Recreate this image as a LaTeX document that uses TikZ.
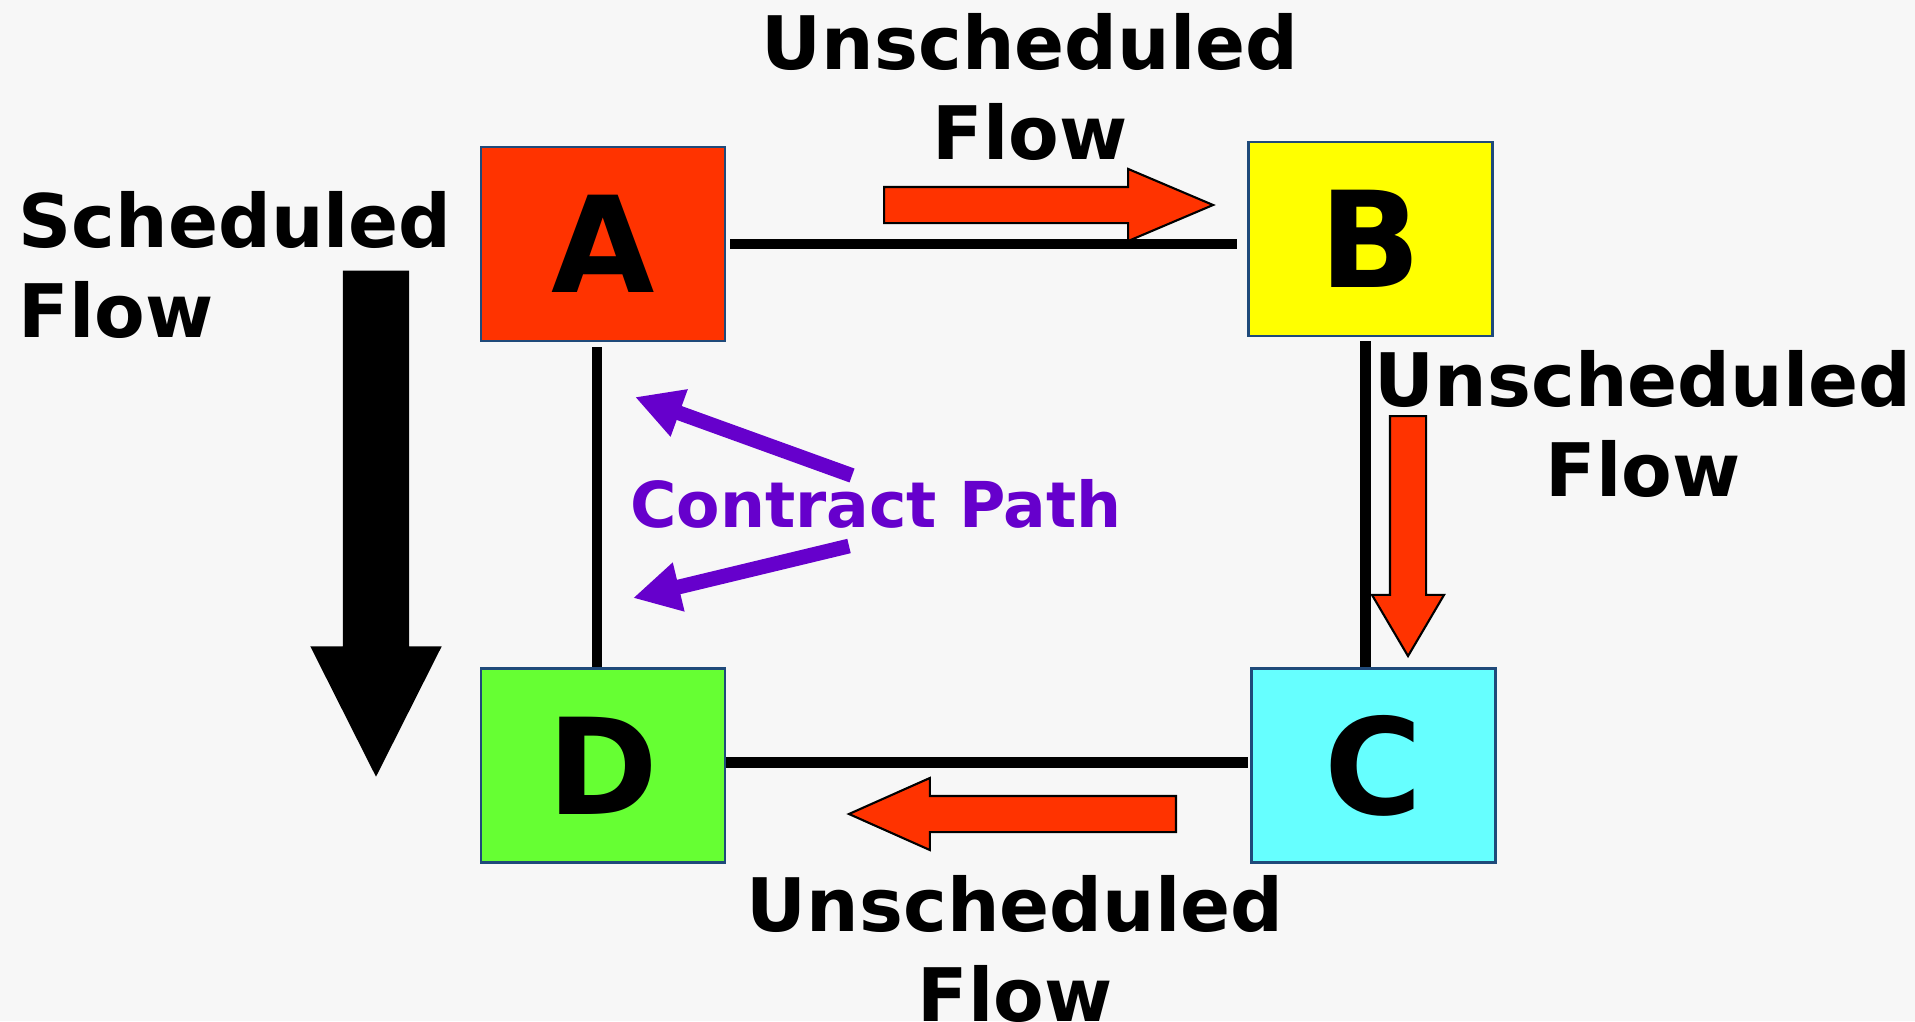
\documentclass[tikz,border=0pt]{standalone}
\usepackage{fontspec}
\setmainfont{DejaVu Sans}
\usepackage{xcolor}
\usetikzlibrary{arrows.meta,positioning,shapes.arrows}

\definecolor{bgcol}{HTML}{F7F7F7}
\definecolor{redbox}{HTML}{FF3300}
\definecolor{yellowbox}{HTML}{FFFF00}
\definecolor{cyanbox}{HTML}{66FFFF}
\definecolor{greenbox}{HTML}{66FF33}
\definecolor{boxline}{HTML}{1F4A7A}
\definecolor{contract}{HTML}{6600CC}

\begin{document}
\begin{tikzpicture}[
		font=\bfseries,
		nodeblock/.style={draw=boxline, line width=0.8pt, minimum width=2.44cm, minimum height=1.94cm, inner sep=0pt, font=\fontsize{38}{38}\selectfont\bfseries},
		link/.style={line width=3.1pt, black},
		flowlabel/.style={font=\fontsize{21}{25.6}\selectfont\bfseries, align=center, inner sep=0pt},
		flowarrow/.style={single arrow, draw=black, line width=0.6pt, fill=redbox, inner xsep=0pt, inner ysep=0.17cm, single arrow head extend=0.18cm, minimum width=0.71cm, anchor=tail},
		schedarrow/.style={single arrow, fill=black, inner xsep=0pt, inner ysep=0.325cm, single arrow head extend=0.325cm, minimum width=1.30cm, minimum height=5.06cm, single arrow tip angle=53.5, rotate=-90, anchor=tail},
		contractarrow/.style={line width=4.2pt, contract, -{Triangle[length=0.47cm,width=0.47cm]}},
		node distance=3.27cm and 5.21cm
		]
		
		% Canvas
		\fill[bgcol] (0,0) rectangle (19.15,10.21);
		\useasboundingbox (0,0) rectangle (19.15,10.21);
		
		% Areas
		\node[nodeblock, fill=redbox] (A) at (6.03,7.77) {A};
		\node[nodeblock, fill=yellowbox, right=of A, yshift=0.05cm] (B) {B};
		\node[nodeblock, fill=greenbox, below=3.25cm of A] (D) {D};
		\node[nodeblock, fill=cyanbox, right=5.24cm of D] (C) {C};
		
		% Tie lines
		\draw[link, shorten <=0.04cm, shorten >=0.1cm] (A.east) -- (A.east -| B.west);
		\draw[link, shorten <=0.05cm] ([xshift=-0.06cm]A.south) -- ([xshift=-0.06cm]A.south |- D.north);
		\draw[link, shorten <=0.04cm] ([xshift=-0.05cm]B.south) -- ([xshift=-0.05cm]B.south |- C.north);
		\draw[link, shorten >=0.02cm] ([yshift=0.03cm]D.east) -- ([yshift=0.03cm]D.east -| C.west);
		
		% Flow labels
		\node[flowlabel, anchor=north] (uflowAB) at (10.30,10.08) {Unscheduled\\Flow};
		\node[flowlabel, align=left, anchor=north west] (sflow) at (0.18,8.30) {Scheduled\\Flow};
		\node[flowlabel, anchor=north] (uflowBC) at (16.43,6.71) {Unscheduled\\Flow};
		\node[flowlabel, anchor=north] (uflowCD) at (10.15,1.46) {Unscheduled\\Flow};
		
		% Flow arrows
		\node[flowarrow, minimum height=3.29cm, single arrow tip angle=46] (arrAB) at (8.83,8.16) {};
		\node[flowarrow, minimum height=2.40cm, single arrow tip angle=61, rotate=-90] (arrBC) at (14.08,6.06) {};
		\node[flowarrow, minimum height=3.27cm, single arrow tip angle=48, rotate=180] (arrCD) at (11.77,2.07) {};
		\node[schedarrow] (arrsched) at (3.76,7.51) {};
		
		% Contract path
		\node[font=\fontsize{18}{22}\selectfont\bfseries, text=contract, anchor=base, inner sep=0pt] (cpath) at (8.76,4.94) {Contract Path};
		\coordinate (cpup) at (8.52,5.455);
		\coordinate (cpdown) at (8.49,4.75);
		\coordinate (cpA) at (6.35,6.24);
		\coordinate (cpD) at (6.33,4.23);
		\draw[contractarrow] (cpup) -- (cpA);
		\draw[contractarrow] (cpdown) -- (cpD);
		
\end{tikzpicture}
\end{document}
